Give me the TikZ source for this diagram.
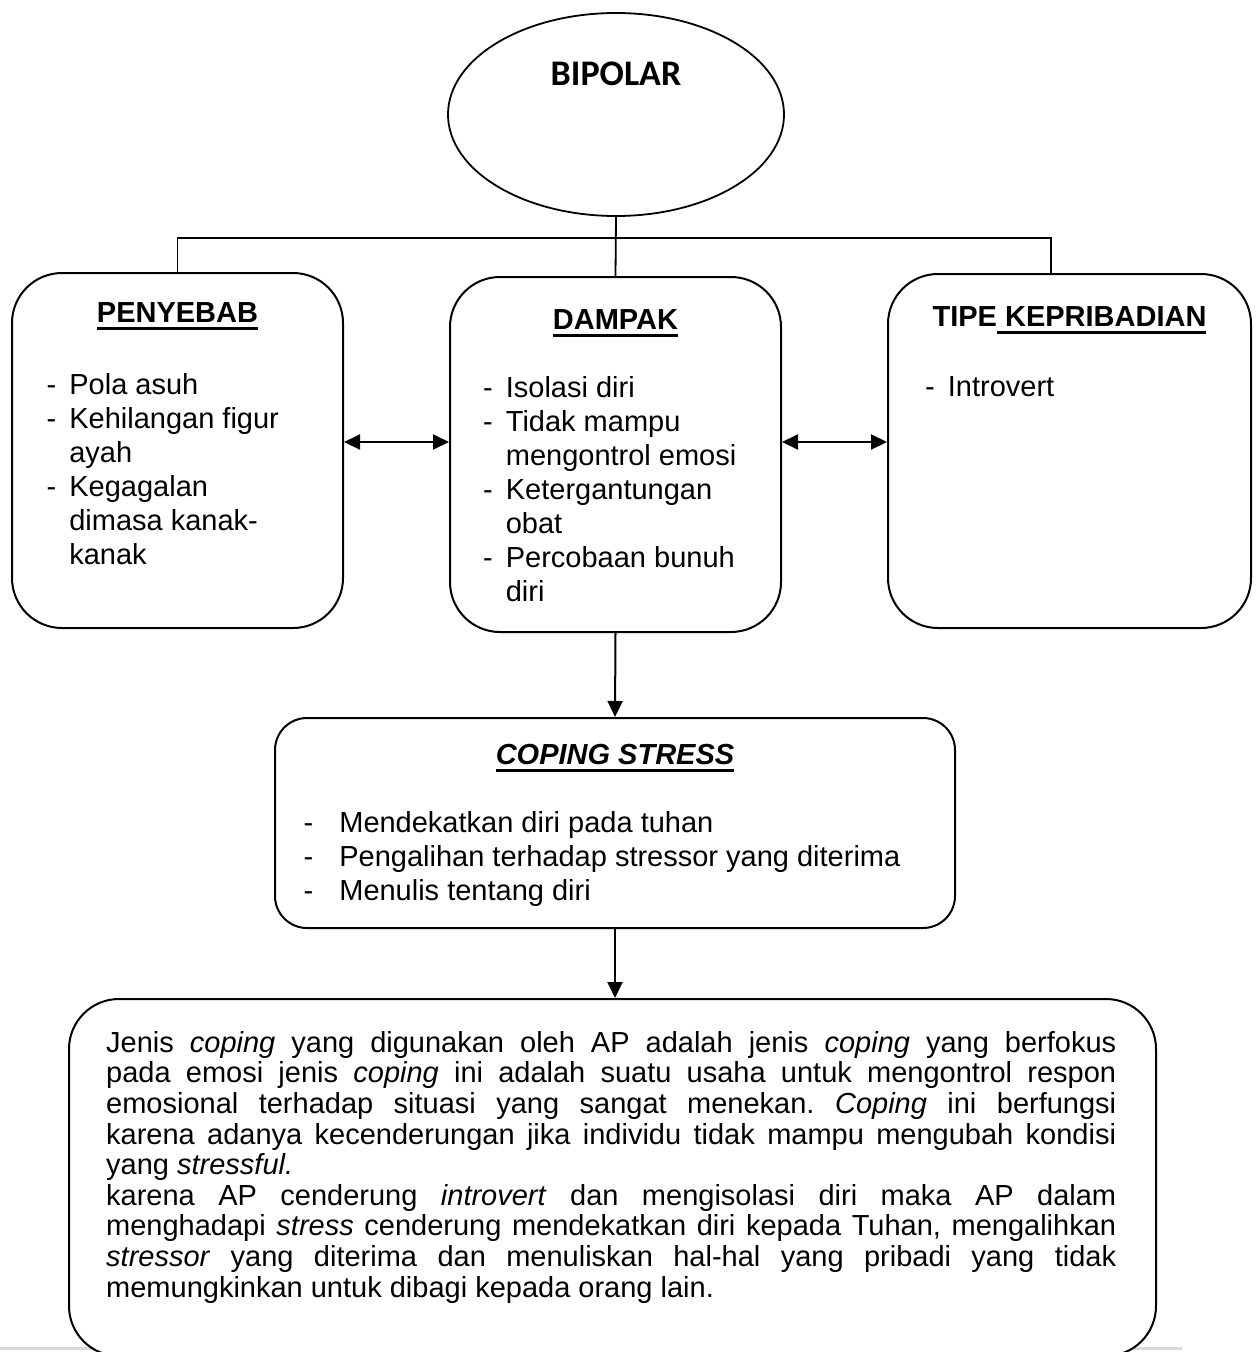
\documentclass[tikz,border=0pt]{standalone}
\usepackage{fontspec}
\setmainfont{Liberation Sans}
\newfontfamily\calibrifont{Carlito}
\setlength{\parindent}{0pt}
\hyphenpenalty=10000
\exhyphenpenalty=10000
\frenchspacing
\usetikzlibrary{positioning, arrows.meta, shapes.geometric}
% underline drawn as a rule below the text
\newcommand{\ulinetext}[1]{\setbox0\hbox{#1}\rlap{\rule[-8pt]{\wd0}{3pt}}\box0}

\begin{document}
\begin{tikzpicture}[x=1pt, y=-1pt,
  box/.style={draw, rounded corners=50pt, line width=2pt, inner sep=0pt},
  boxtitle/.style={font=\fontsize{29}{34}\selectfont\bfseries, inner sep=0pt, anchor=base},
  itemlist/.style={font=\fontsize{29}{34}\selectfont, inner sep=0pt, anchor=base west},
  link/.style={line width=1.8pt},
  arr/.style={-{Triangle[length=16pt, width=15pt]}, line width=2pt},
  dblarr/.style={{Triangle[length=16pt, width=15pt]}-{Triangle[length=16pt, width=15pt]}, line width=2pt},
]
\useasboundingbox (0,0) rectangle (1257,1352);

\draw[line width=3pt, gray!30] (0,1348) -- (1182,1348);

% top
\node[draw, ellipse, minimum width=336pt, minimum height=203pt, line width=1.8pt, inner sep=0pt] (bip) at (616,114.5) {};
\node[font=\calibrifont\bfseries\fontsize{36}{40}\selectfont, inner sep=0pt, below=50pt of bip.north] (biptext) {BIPOLAR};

% three boxes
\node[box, minimum width=331pt, minimum height=355pt] (pen) at (177.5,450.5) {};
\node[box, minimum width=331pt, minimum height=355pt] (dam) at (615.5,454.5) {};
\node[box, minimum width=363pt, minimum height=354pt] (tipe) at (1069.5,451) {};

\node[boxtitle] (pentitle) at ([yshift=-50pt]pen.north) {\ulinetext{PENYEBAB}};
\node[boxtitle] (damtitle) at ([yshift=-53pt]dam.north) {\ulinetext{DAMPAK}};
\node[boxtitle] (tipetitle) at ([yshift=-53pt]tipe.north) {TIPE\ulinetext{\ KEPRIBADIAN}};

\node[itemlist] (penlist) at ([xshift=35.5pt, yshift=-122pt]pen.north west) {%
  \begin{tabular}[t]{@{}l@{\hspace{13pt}}l@{}}
  - & Pola asuh\\
  - & Kehilangan figur\\
    & ayah\\
  - & Kegagalan\\
    & dimasa kanak-\\
    & kanak
  \end{tabular}};
\node[itemlist] (damlist) at ([xshift=34pt, yshift=-121pt]dam.north west) {%
  \begin{tabular}[t]{@{}l@{\hspace{13pt}}l@{}}
  - & Isolasi diri\\
  - & Tidak mampu\\
    & mengontrol emosi\\
  - & Ketergantungan\\
    & obat\\
  - & Percobaan bunuh\\
    & diri
  \end{tabular}};
\node[itemlist] (tipelist) at ([xshift=38pt, yshift=-123pt]tipe.north west) {%
  \begin{tabular}[t]{@{}l@{\hspace{13pt}}l@{}}
  - & Introvert
  \end{tabular}};

% coping
\node[box, rounded corners=32pt, minimum width=680pt, minimum height=210pt] (cop) at (615,823) {};
\node[boxtitle] (coptitle) at ([yshift=-47pt]cop.north) {\ulinetext{\itshape COPING STRESS}};
\node[itemlist] (coplist) at ([xshift=29.5pt, yshift=-115pt]cop.north west) {%
  \begin{tabular}[t]{@{}l@{\hspace{26pt}}l@{}}
  - & Mendekatkan diri pada tuhan\\
  - & Pengalihan terhadap stressor yang diterima\\
  - & Menulis tentang diri
  \end{tabular}};

% conclusion
\node[box, fill=white, minimum width=1087pt, minimum height=357pt] (kes) at (612.5,1177.5) {};
\node[text width=1010pt, align=justify, inner sep=0pt, anchor=north west,
  font=\fontsize{29}{30.6}\selectfont] (kestext) at ([xshift=38pt, yshift=-33pt]kes.north west) {%
Jenis \textit{coping} yang digunakan oleh AP adalah jenis \textit{coping} yang berfokus\linebreak
pada emosi jenis \textit{coping} ini adalah suatu usaha untuk mengontrol respon\linebreak
emosional terhadap situasi yang sangat menekan. \textit{Coping} ini berfungsi\linebreak
karena adanya kecenderungan jika individu tidak mampu mengubah kondisi\linebreak
yang \textit{stressful.}\\
karena AP cenderung \textit{introvert} dan mengisolasi diri maka AP dalam\linebreak
menghadapi \textit{stress} cenderung mendekatkan diri kepada Tuhan, mengalihkan\linebreak
\textit{stressor} yang diterima dan menuliskan hal-hal yang pribadi yang tidak\linebreak
memungkinkan untuk dibagi kepada orang lain.};

% connectors
\coordinate (barR) at (1051,238);
\draw[link] (bip.south) -- (dam.north);
\draw[link] (pen.north) |- (barR) -- (barR |- tipe.north);
\draw[dblarr] ([yshift=8.5pt]pen.east) -- ([yshift=8.5pt]pen.east -| dam.west);
\draw[dblarr] ([yshift=12.5pt]dam.east) -- ([yshift=12.5pt]dam.east -| tipe.west);
\draw[arr] (dam.south) -- (cop.north);
\draw[arr] (cop.south) -- (cop.south |- kes.north);

\end{tikzpicture}
\end{document}
